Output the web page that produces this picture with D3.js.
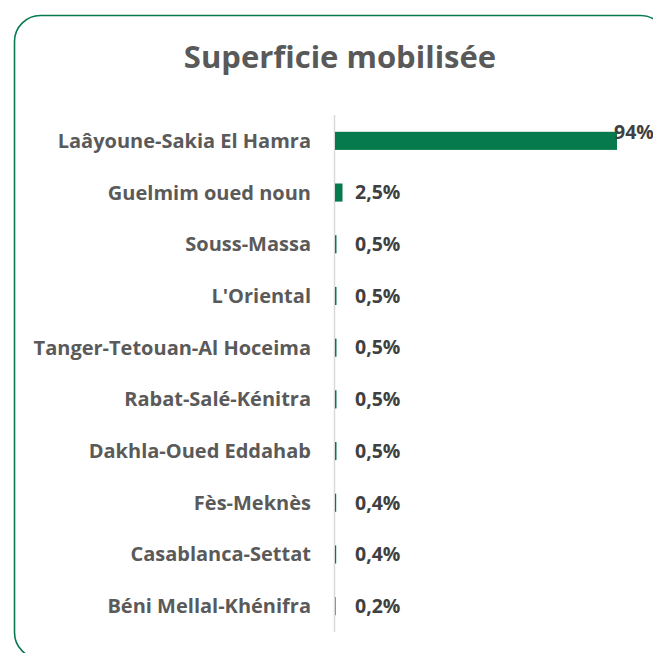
<!DOCTYPE html>
<html lang="fr">
<head>
  <meta charset="utf-8" />
  <title>Superficie mobilisée</title>
  <script src="https://d3js.org/d3.v7.min.js"></script>
  <style>
    body { margin: 0; background: #fff; font-family: "Open Sans", Arial, sans-serif; }
    .label { fill: #5a5a5a; font-weight: bold; font-size: 20px; }
    .value { fill: #404040; font-weight: bold; font-size: 19.5px; }
  </style>
</head>
<body>
<svg id="chart" width="653" height="653"></svg>
<script>
var regions = ["Laâyoune-Sakia El Hamra", "Guelmim oued noun", "Souss-Massa", "L'Oriental",
  "Tanger-Tetouan-Al Hoceima", "Rabat-Salé-Kénitra", "Dakhla-Oued Eddahab", "Fès-Meknès",
  "Casablanca-Settat", "Béni Mellal-Khénifra"];
var values = [94, 2.5, 0.5, 0.5, 0.5, 0.5, 0.5, 0.4, 0.4, 0.2];
var valueLabels = ["94%", "2,5%", "0,5%", "0,5%", "0,5%", "0,5%", "0,5%", "0,4%", "0,4%", "0,2%"];

var svg = d3.select("#chart");
var green = "#067a4c";

// frame, runs past the right and bottom edges like the original
svg.append("rect")
  .attr("x", 14.5).attr("y", 15.5)
  .attr("width", 652).attr("height", 643)
  .attr("rx", 26).attr("ry", 26)
  .attr("fill", "none").attr("stroke", green).attr("stroke-width", 1.6);

svg.append("text")
  .attr("x", 340).attr("y", 68)
  .attr("text-anchor", "middle")
  .attr("fill", "#595959")
  .style("font-size", "31px").style("font-weight", "bold")
  .text("Superficie mobilisée");

var x0 = 335;
var x = d3.scaleLinear().domain([0, 94]).range([0, 282]);
var y = d3.scaleBand().domain(regions).range([115, 632]).paddingInner(0.65).paddingOuter(0.325);

// axis line
svg.append("line")
  .attr("x1", x0 - 0.5).attr("x2", x0 - 0.5)
  .attr("y1", 115).attr("y2", 632)
  .attr("stroke", "#d9d9d9").attr("stroke-width", 1.5);

svg.selectAll(".bar").data(values).enter().append("rect")
  .attr("class", "bar")
  .attr("x", x0)
  .attr("y", function(d, i) { return y(regions[i]); })
  .attr("width", function(d) { return x(d); })
  .attr("height", y.bandwidth())
  .attr("fill", green);

svg.selectAll(".label").data(regions).enter().append("text")
  .attr("class", "label")
  .attr("x", 311)
  .attr("y", function(d) { return y(d) + y.bandwidth() / 2; })
  .attr("dy", "0.35em")
  .attr("text-anchor", "end")
  .text(function(d) { return d; });

svg.selectAll(".value").data(values).enter().append("text")
  .attr("class", "value")
  .attr("x", function(d, i) { return i === 0 ? x0 + x(d) - 3 : 355; })
  .attr("y", function(d, i) { return y(regions[i]) + y.bandwidth() / 2 + (i === 0 ? -9 : 0); })
  .attr("dy", "0.35em")
  .text(function(d, i) { return valueLabels[i]; });
</script>
</body>
</html>
